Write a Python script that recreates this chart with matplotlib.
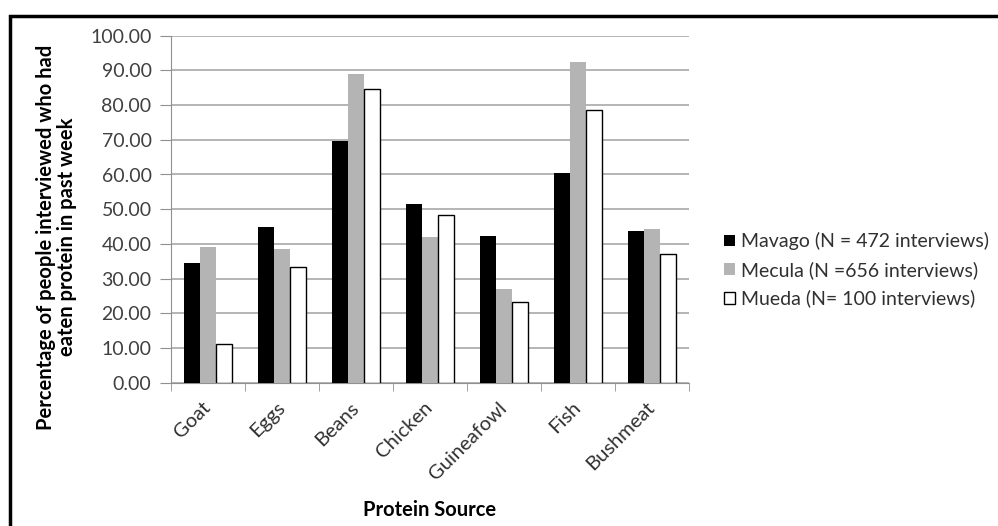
import matplotlib
matplotlib.use("Agg")
import numpy as np
import matplotlib.pyplot as plt
from matplotlib.patches import Rectangle

# categories and series
categories = ["Goat", "Eggs", "Beans", "Chicken", "Guineafowl", "Fish", "Bushmeat"]
mavago = [34.6, 44.9, 69.7, 51.5, 42.3, 60.5, 43.8]
mecula = [39.1, 38.5, 88.9, 41.9, 26.9, 92.5, 44.2]
mueda = [11.2, 33.2, 84.6, 48.2, 23.3, 78.6, 37.2]
series_labels = ["Mavago (N = 472 interviews)", "Mecula (N =656 interviews)",
                 "Mueda (N= 100 interviews)"]
yticks = np.arange(0, 101, 10)

plt.rcParams['font.family'] = ['Lato', 'DejaVu Sans']

fig = plt.figure(figsize=(9.98, 5.26), dpi=100)
ax = fig.add_axes([171 / 998, 1 - 382.7 / 526, (689 - 171) / 998, (382.7 - 35.7) / 526])

# outer frame (runs off the right and bottom of the picture)
fig.patches.append(Rectangle((9.5 / 998, -0.1), 1.2, 1 - 15.5 / 526 + 0.1,
                             transform=fig.transFigure, fill=False,
                             edgecolor='black', linewidth=2.5))

x = np.arange(len(categories))
w = 0.216
ax.bar(x - w, mavago, w, color='black', label=series_labels[0], zorder=3)
ax.bar(x, mecula, w, color='#b4b4b4', label=series_labels[1], zorder=3)
ax.bar(x + w, mueda, w, color='white', edgecolor='black', linewidth=1.0,
       label=series_labels[2], zorder=3)

ax.set_xlim(-0.5, len(categories) - 0.5)
ax.set_ylim(0, 100)
ax.set_yticks(yticks)
ax.set_yticklabels([f"{v:.2f}" for v in yticks], color='#404040', fontsize=14)
ax.yaxis.grid(True, color='#a8a8a8', linewidth=1.2, zorder=0)

ax.set_xticks(x)
ax.set_xticklabels(categories, rotation=45, ha='right', va='center',
                   rotation_mode='anchor', fontsize=14.5, color='#303030')
ax.set_xticks(np.arange(-0.5, len(categories)), minor=True)
ax.tick_params(axis='x', which='major', length=0, pad=16)
ax.tick_params(axis='x', which='minor', length=6, color='#909090')
ax.tick_params(axis='y', length=8, color='#909090', pad=6)

for s in ['top', 'right']:
    ax.spines[s].set_visible(False)
ax.spines['left'].set_color('#909090')
ax.spines['bottom'].set_color('#909090')

ax.set_xlabel("Protein Source", fontsize=14.5, fontweight='bold', labelpad=12)
ax.set_ylabel("Percentage of people interviewed who had\neaten protein in past week",
              fontsize=14.5, fontweight='bold', linespacing=1.05)
ax.yaxis.set_label_coords(-0.182, 0.42)

ax.legend(loc='center left', bbox_to_anchor=(1.0676, 0.325), frameon=False,
          fontsize=14, handlelength=0.55, handleheight=0.55, handletextpad=0.3,
          labelspacing=0.55, borderpad=0, borderaxespad=0, labelcolor='#303030')

fig.savefig("out.png", dpi=100)
